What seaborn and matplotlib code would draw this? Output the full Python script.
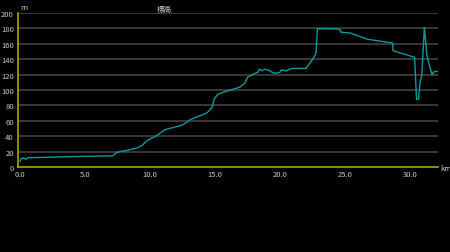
import matplotlib
matplotlib.use("Agg")
import matplotlib.pyplot as plt
import seaborn as sns
import pandas as pd

distance_km = [0.0, 0.1, 0.3, 0.45, 0.6, 2.0, 4.0, 7.15, 7.45, 8.2, 8.97, 9.4, 9.74, 10.5, 11.15, 12.5,
               13.1, 14.36, 14.77, 14.95, 15.25, 15.9, 16.9, 17.3, 17.5, 17.95, 18.3, 18.4, 18.6,
               18.85, 19.2, 19.5, 19.75, 20.0, 20.1, 20.5, 20.9, 22.0, 22.56, 22.77, 22.87, 24.0,
               24.6, 24.7, 25.4, 26.7, 28.67, 28.7, 30.35, 30.5, 30.65, 30.77, 30.9, 31.1, 31.3,
               31.5, 31.7, 31.8, 31.9, 32.2]
elevation_m = [7, 11, 11.5, 10, 12, 12.6, 13.5, 14.5, 19, 21.5, 24.5, 28, 34, 40.5, 48.5, 54.5,
               61.5, 70, 77, 89, 94.8, 98.5, 103.5, 109, 116.5, 120.8, 123, 127, 125,
               127, 125, 122, 122, 123, 126, 125, 128, 128, 141, 148, 179.5, 179.5,
               179, 175, 174, 166, 161, 151, 142.5, 88, 88, 110, 118.6, 181, 144.6,
               131.6, 119.5, 123, 124, 124]
y_ticks = [0, 20, 40, 60, 80, 100, 120, 140, 160, 180, 200]
x_ticks = [0.0, 5.0, 10.0, 15.0, 20.0, 25.0, 30.0]
x_tick_labels = ["0.0", "5.0", "10.0", "15.0", "20.0", "25.0", "30.0"]
title_text = "標高"

df = pd.DataFrame({"km": distance_km, "m": elevation_m})

sns.set_theme(style="dark")
plt.rcParams['font.family'] = ['Noto Sans CJK JP', 'DejaVu Sans']

fig = plt.figure(figsize=(4.5, 2.53), dpi=100, facecolor="black")
ax = fig.add_axes([18/450, 1-168/253, 420/450, 154/253])
ax.set_facecolor("black")

for yv in y_ticks[1:]:
    ax.axhline(yv, color="#424242", lw=1.2, zorder=1)

sns.lineplot(data=df, x="km", y="m", ax=ax, color="#0b9a9a", lw=1.0, zorder=3)

ax.set_xlim(-0.15, 32.15)
ax.set_ylim(0, 200)
ax.set_yticks(y_ticks)
ax.set_yticklabels([str(v) for v in y_ticks])
ax.set_xticks(x_ticks)
ax.set_xticklabels(x_tick_labels)
ax.set_xlabel("")
ax.set_ylabel("")
ax.grid(False)

ax.tick_params(axis="y", length=0, pad=3, labelsize=5.5, labelcolor="#c8c8c8")
ax.tick_params(axis="x", direction="in", length=2, width=0.6, color="#808080", pad=2.5,
               labelsize=5.5, labelcolor="#c8c8c8")

for s in ["top", "right"]:
    ax.spines[s].set_visible(False)
for s in ["left", "bottom"]:
    ax.spines[s].set_visible(True)
    ax.spines[s].set_color("#a8a800")
    ax.spines[s].set_linewidth(1.2)
ax.spines["left"].set_zorder(4)

fig.text(20/450, 1-8/253, "m", color="#c8c8c8", fontsize=5.5, ha="left", va="center")
fig.text(440/450, 1-169/253, "km", color="#c8c8c8", fontsize=5.5, ha="left", va="center")
fig.text(164/450, 1-10/253, title_text, color="#c8c8c8", fontsize=5.5, ha="center", va="center")

fig.savefig("out.png", dpi=100, facecolor="black")
